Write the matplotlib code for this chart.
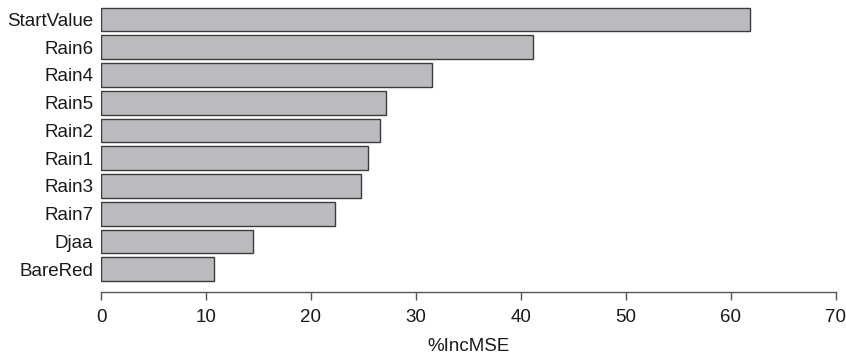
import matplotlib
matplotlib.use("Agg")
import matplotlib.pyplot as plt

plt.rcParams['font.family'] = ['Liberation Sans', 'DejaVu Sans']

variables = ["StartValue", "Rain6", "Rain4", "Rain5", "Rain2",
             "Rain1", "Rain3", "Rain7", "Djaa", "BareRed"]
inc_mse = [61.8, 41.2, 31.5, 27.2, 26.6, 25.4, 24.8, 22.3, 14.5, 10.8]
x_ticks = [0, 10, 20, 30, 40, 50, 60, 70]
x_label = "%IncMSE"

W, H = 846, 362
fig = plt.figure(figsize=(W / 100, H / 100), dpi=100)
left, right = 101 / W, 835.7 / W
bottom_px, top_px = 292, 4
ax = fig.add_axes([left, 1 - bottom_px / H, right - left, (bottom_px - top_px) / H])

n = len(variables)
pos = [n - 1 - i for i in range(n)]
ax.barh(pos, inc_mse, height=0.85, color="#babbbf", edgecolor="#3c3c3c",
        linewidth=1.0)

ax.set_xlim(0, 70)
ax.set_ylim(-0.822, 9.559)
ax.set_yticks(pos)
ax.set_yticklabels(variables, fontsize=13.5, color="#1a1a1a")
ax.tick_params(axis='y', length=0, pad=5.5)

ax.set_xticks(x_ticks)
ax.set_xticklabels([str(t) for t in x_ticks], fontsize=13.5, color="#1a1a1a")
ax.tick_params(axis='x', length=5.8, width=1.0, color="#555555", pad=6.3)
ax.set_xlabel(x_label, fontsize=13.5, color="#1a1a1a", labelpad=9)

for s in ["top", "right", "left"]:
    ax.spines[s].set_visible(False)
ax.spines["bottom"].set_color("#555555")
ax.spines["bottom"].set_linewidth(1.0)
ax.spines["bottom"].set_bounds(0, 70)

fig.savefig("out.png", dpi=100)
